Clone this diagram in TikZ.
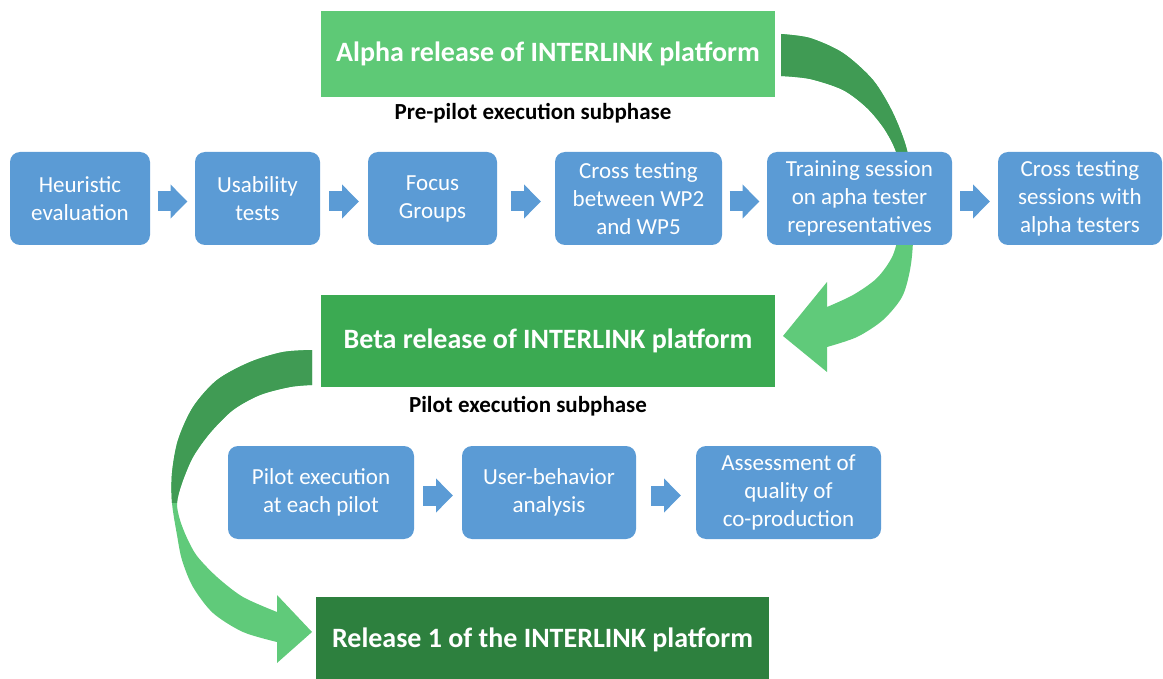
\documentclass[tikz,border=0pt]{standalone}
\usepackage{fontspec}
\setmainfont{Carlito}
\usetikzlibrary{arrows.meta,calc}

\definecolor{boxblue}{RGB}{91,155,213}
\definecolor{alphagreen}{RGB}{94,201,118}
\definecolor{betagreen}{RGB}{59,170,82}
\definecolor{relgreen}{RGB}{45,128,62}
\definecolor{arrdark}{RGB}{64,155,84}
\definecolor{arrlight}{RGB}{96,202,122}

\tikzset{
  stage/.style={rectangle, rounded corners=10pt, fill=boxblue, text=white,
    align=center, inner sep=0pt, minimum height=93pt,
    font=\fontsize{23}{28}\selectfont},
  release/.style={rectangle, text=white, inner sep=0pt, minimum width=454pt,
    font=\bfseries\fontsize{28}{34}\selectfont},
  phase/.style={font=\bfseries\fontsize{23}{27}\selectfont},
  smallarr/.style={draw=boxblue, line width=20pt,
    -{Triangle[length=17pt,width=33pt]}},
}

\begin{document}
\begin{tikzpicture}[x=1pt,y=1pt]
  \useasboundingbox (0,-679) rectangle (1163,0);
  % curved arrows behind the boxes
  \fill[arrlight, path picture={\fill[arrdark] (700,-200) rectangle (1000,0);}]
    plot[smooth] coordinates {(781,-34) (810,-38) (843,-53) (873,-80) (893,-113)
      (907,-150) (912,-190) (913,-240) (910,-270) (902,-297) (883,-320) (857,-337) (827,-347)}
    -- (827,-372) -- (783,-336) -- (827,-282) -- (827,-307)
    -- plot[smooth] coordinates {(827,-307) (853,-295) (877,-278) (893,-255) (900,-225)
      (901,-190) (897,-155) (885,-130) (867,-108) (843,-90) (810,-79) (781,-76)}
    -- cycle;
  \fill[arrlight, path picture={\fill[arrdark] (100,-503) rectangle (400,-300);}]
    plot[smooth] coordinates {(312,-350) (283,-352) (250,-362) (217,-380) (193,-407)
      (178,-440) (172,-473) (172,-503) (177,-535) (182,-560) (193,-587) (213,-613)
      (243,-632) (277,-642)}
    -- (277,-663) -- (312,-632) -- (277,-595) -- (277,-612)
    -- plot[smooth] coordinates {(277,-612) (243,-597) (217,-577) (197,-556) (187,-538)
      (180,-520) (177,-503) (182,-483) (193,-457) (210,-433) (233,-410) (260,-395)
      (290,-387) (312,-385)}
    -- cycle;

  \node[release, fill=alphagreen, minimum height=86pt] (alpha) at (548,-54)
    {Alpha release of INTERLINK platform};
  \node[release, fill=betagreen, minimum height=92pt] (beta) at (548,-341)
    {Beta release of INTERLINK platform};
  \node[release, fill=relgreen, minimum height=86pt, minimum width=453pt] (rel) at (542.5,-640)
    {Release 1 of the INTERLINK platform};

  \node[phase] (prepilot) at (533,-113) {Pre-pilot execution subphase};
  \node[phase] (pilotsub) at (528,-406) {Pilot execution subphase};

  \node[stage, minimum width=140pt] (heur) at (80,-198.5) {Heuristic\\evaluation};
  \node[stage, minimum width=125pt] (usab) at (257.5,-198.5) {Usability\\tests};
  \node[stage, minimum width=129pt] (focus) at (432.5,-198.5) {Focus\\Groups};
  \node[stage, minimum width=167pt] (cross) at (638.5,-198.5) {Cross testing\\between WP2\\and WP5};
  \node[stage, minimum width=185pt] (train) at (859.5,-198.5) {Training session\\on apha tester\\representatives};
  \node[stage, minimum width=164pt] (sess) at (1080,-198.5) {Cross testing\\sessions with\\alpha testers};

  \node[stage, minimum width=186pt] (pilot) at (321,-492.5) {Pilot execution\\at each pilot};
  \node[stage, minimum width=174pt] (behav) at (549,-492.5) {User-behavior\\analysis};
  \node[stage, minimum width=185pt] (assess) at (788.5,-492.5) {Assessment of\\quality of\\co-production};

  \foreach \a/\b in {heur/usab, usab/focus, focus/cross, cross/train, train/sess, pilot/behav, behav/assess}
    \draw[smallarr] ($(\a.east)!.5!(\b.west)+(-15,-3)$) -- ($(\a.east)!.5!(\b.west)+(15,-3)$);
\end{tikzpicture}
\end{document}
